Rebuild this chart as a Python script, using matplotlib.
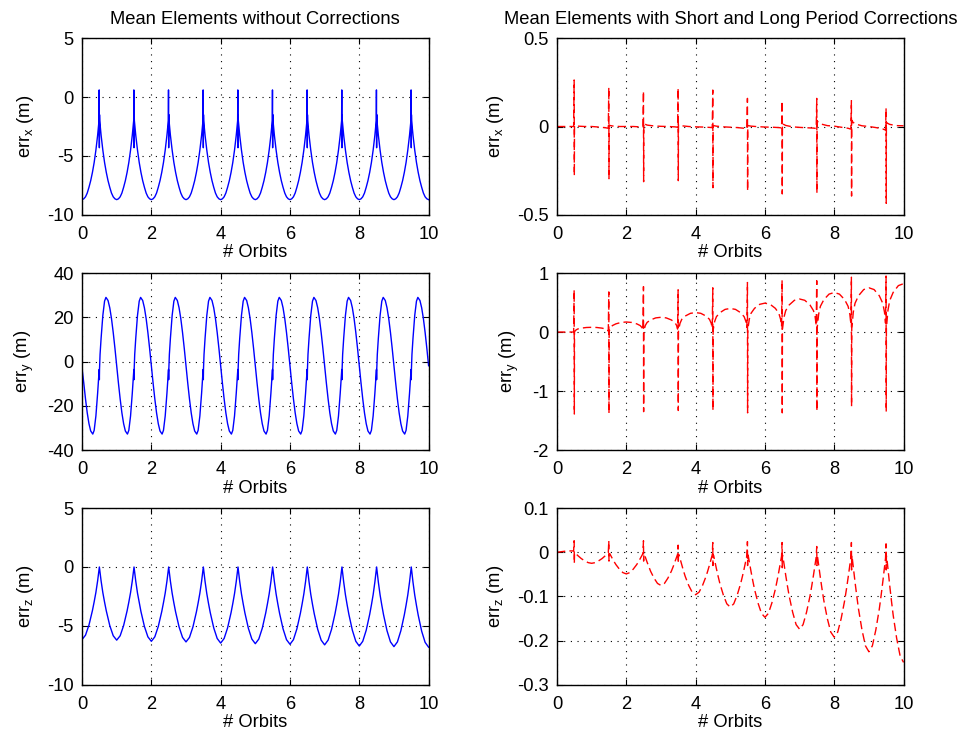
import matplotlib
matplotlib.use("Agg")
import matplotlib.pyplot as plt

plt.rcParams['font.family'] = ['Liberation Sans', 'DejaVu Sans']
plt.rcParams['mathtext.fontset'] = 'custom'
plt.rcParams['mathtext.rm'] = 'Liberation Sans'
plt.rcParams['mathtext.it'] = 'Liberation Sans'
plt.rcParams['axes.unicode_minus'] = False

orbits = list(range(10))  # start of every orbit, x in # Orbits

# ---- mean elements without corrections (m) ----
errx_phase = [0, .05, .1, .15, .2, .25, .3, .35, .4, .45, .48, .49, .495, .5, .505, .51, .52, .55, .6, .65,
              .7, .75, .8, .85, .9, .95]
errx_row = [-8.7, -8.63, -8.46, -8.14, -7.65, -7.09, -6.39, -5.55, -4.5, -3.24, -2.33, -2.0, 0.6, -4.3,
            -1.5, -2.0, -2.33, -3.24, -4.5, -5.55, -6.39, -7.09, -7.65, -8.14, -8.46, -8.63]
errx_rows = [errx_row] * 10
errx_end = -8.7

erry_phase = [0, .05, .1, .15, .2, .25, .31, .35, .4, .45, .48, .495, .5, .505, .52, .55, .6, .65, .69,
              .75, .8, .85, .9, .95]
erry_row = [-1.9, -9.7, -16.9, -23.2, -28.1, -31.4, -32.8, -31.1, -24.6, -14.3, -7.0, -3.6, -8.2, -3.2,
            3.2, 10.5, 20.8, 27.3, 29.0, 27.6, 24.3, 19.4, 13.1, 5.9]
erry_rows = [[-3.0] + erry_row[1:]] + [erry_row] * 9
erry_end = -1.9

errz_phase = [0, .1, .2, .3, .35, .4, .45, .48, .5, .52, .55, .6, .65, .7, .8, .9]
errz_rows = [
    [-6.15, -5.78, -4.92, -3.69, -2.95, -2.15, -1.17, -0.49, 0, -0.50, -1.18, -2.17, -2.98, -3.72, -4.96, -5.83],
    [-6.2, -5.83, -4.96, -3.72, -2.98, -2.17, -1.18, -0.50, 0, -0.50, -1.20, -2.21, -3.02, -3.78, -5.04, -5.92],
    [-6.3, -5.92, -5.04, -3.78, -3.02, -2.21, -1.20, -0.50, 0, -0.51, -1.21, -2.22, -3.05, -3.81, -5.08, -5.97],
    [-6.35, -5.97, -5.08, -3.81, -3.05, -2.22, -1.21, -0.51, 0, -0.52, -1.23, -2.26, -3.10, -3.87, -5.16, -6.06],
    [-6.45, -6.06, -5.16, -3.87, -3.10, -2.26, -1.23, -0.52, 0, -0.52, -1.24, -2.28, -3.12, -3.9, -5.2, -6.11],
    [-6.5, -6.11, -5.2, -3.9, -3.12, -2.28, -1.24, -0.52, 0, -0.52, -1.24, -2.29, -3.14, -3.93, -5.24, -6.16],
    [-6.55, -6.16, -5.24, -3.93, -3.14, -2.29, -1.24, -0.52, 0, -0.53, -1.25, -2.31, -3.17, -3.96, -5.28, -6.2],
    [-6.6, -6.2, -5.28, -3.96, -3.17, -2.31, -1.25, -0.53, 0, -0.54, -1.27, -2.35, -3.22, -4.02, -5.36, -6.3],
    [-6.7, -6.3, -5.36, -4.02, -3.22, -2.35, -1.27, -0.54, 0, -0.54, -1.28, -2.36, -3.24, -4.05, -5.4, -6.35],
    [-6.75, -6.35, -5.4, -4.05, -3.24, -2.36, -1.28, -0.54, 0, -0.54, -1.29, -2.38, -3.26, -4.08, -5.44, -6.39],
]
errz_end = -6.8

# ---- mean elements with short and long period corrections (m) ----
cx_phase = [0, .2, .4, .48, .495, .5, .505, .52, .6, .8]
cx_rows = [
    [0, 0, 0, 0, .263, -.278, .005, .004, .002, 0],
    [0, -.003, -.007, -.01, .221, -.295, .008, .006, .003, 0],
    [0, 0, -.002, -.003, .2, -.312, .02, .015, .008, .003],
    [.001, 0, -.002, -.004, .217, -.306, .012, .01, .004, 0],
    [-.002, -.003, -.005, -.006, .206, -.346, .006, .005, .002, -.002],
    [-.004, -.006, -.01, -.013, .159, -.364, .006, .005, .002, -.001],
    [-.003, -.004, -.006, -.008, .144, -.381, .018, .014, .006, -.002],
    [-.005, -.007, -.009, -.011, .159, -.376, .034, .028, .015, .005],
    [.002, -.004, -.01, -.015, .146, -.393, .036, .028, .015, .004],
    [0, -.006, -.014, -.02, .103, -.434, .025, .02, .012, .005],
]
cx_end = .004

cy_phase = [0, .15, .3, .4, .45, .48, .495, .5, .505, .52, .55, .6, .7, .85]
cy_rows = [
    [0, 0, 0, 0, 0, 0, .716, -1.39, .006, .016, .036, .052, .066, .077],
    [.08, .077, .066, .052, .036, .016, .68, -1.38, .014, .034, .077, .11, .139, .163],
    [.17, .163, .139, .11, .077, .034, .77, -1.35, .02, .05, .113, .163, .205, .24],
    [.25, .24, .205, .163, .113, .05, .716, -1.33, .026, .066, .149, .215, .271, .317],
    [.33, .317, .271, .215, .149, .066, .75, -1.33, .032, .08, .18, .26, .328, .384],
    [.40, .384, .328, .26, .18, .08, .84, -1.37, .039, .098, .221, .319, .402, .47],
    [.49, .47, .402, .319, .221, .098, .88, -1.37, .045, .112, .252, .364, .459, .538],
    [.56, .538, .459, .364, .252, .112, .87, -1.34, .054, .134, .302, .436, .549, .643],
    [.67, .643, .549, .436, .302, .134, .93, -1.26, .06, .15, .338, .488, .615, .72],
    [.75, .72, .615, .488, .338, .15, .95, -1.35, .066, .164, .369, .533, .672, .787],
]
cy_end = .82

cz_phase = [0, .1, .2, .3, .35, .4, .45, .48, .495, .5, .505, .52, .55, .6, .65, .7, .8, .9]
cz_rows = [
    [0, .001, .002, .003, .003, .003, .003, .003, .026, -.025, -.003, -.0015, -.0038, -.0075, -.011, -.0143, -.0195, -.0235],
    [-.025, -.0235, -.0195, -.0143, -.011, -.0075, -.0038, -.0015, .026, -.02, -.004, -.0029, -.0074, -.0147, -.0216, -.0279, -.0382, -.046],
    [-.049, -.046, -.0382, -.0279, -.0216, -.0147, -.0074, -.0029, .026, -.02, -.004, -.0045, -.0113, -.0225, -.033, -.0428, -.0585, -.0705],
    [-.075, -.0705, -.0585, -.0428, -.033, -.0225, -.0113, -.0045, .016, -.025, -.005, -.0058, -.0144, -.0288, -.0422, -.0547, -.0749, -.0902],
    [-.096, -.0902, -.0749, -.0547, -.0422, -.0288, -.0144, -.0058, .022, -.03, -.005, -.0074, -.0186, -.0372, -.0546, -.0707, -.0967, -.1166],
    [-.124, -.1166, -.0967, -.0707, -.0546, -.0372, -.0186, -.0074, .024, -.03, -.006, -.0088, -.0221, -.0441, -.0647, -.0838, -.1147, -.1382],
    [-.147, -.1382, -.1147, -.0838, -.0647, -.0441, -.0221, -.0088, .022, -.035, -.006, -.0104, -.0261, -.0522, -.0766, -.0992, -.1357, -.1636],
    [-.174, -.1636, -.1357, -.0992, -.0766, -.0522, -.0261, -.0104, .013, -.03, -.007, -.0115, -.0288, -.0576, -.0845, -.1094, -.1498, -.1805],
    [-.192, -.1805, -.1498, -.1094, -.0845, -.0576, -.0288, -.0115, .022, -.04, -.007, -.0135, -.0338, -.0675, -.099, -.1283, -.1755, -.2115],
    [-.225, -.2115, -.1755, -.1283, -.099, -.0675, -.0338, -.0135, .019, -.04, -.008, -.0149, -.0374, -.0747, -.1096, -.1419, -.1942, -.2341],
]
cz_end = -.249

xticks = [0, 2, 4, 6, 8, 10]
xtick_labels = ['0', '2', '4', '6', '8', '10']
ylims = [(-10, 5), (-40, 40), (-10, 5), (-0.5, 0.5), (-2, 1), (-0.3, 0.1)]
yticks = [[-10, -5, 0, 5], [-40, -20, 0, 20, 40], [-10, -5, 0, 5],
          [-0.5, 0, 0.5], [-2, -1, 0, 1], [-0.3, -0.2, -0.1, 0, 0.1]]
ytick_labels = [['-10', '-5', '0', '5'], ['-40', '-20', '0', '20', '40'], ['-10', '-5', '0', '5'],
                ['-0.5', '0', '0.5'], ['-2', '-1', '0', '1'], ['-0.3', '-0.2', '-0.1', '0', '0.1']]
ylabels = ['err$_\\mathrm{x}$ (m)', 'err$_\\mathrm{y}$ (m)', 'err$_\\mathrm{z}$ (m)'] * 2
titles = ['Mean Elements without Corrections', 'Mean Elements with Short and Long Period Corrections']


def series(phase, rows, end):
    x, y = [], []
    for k, row in zip(orbits, rows):
        x += [k + p for p in phase]
        y += list(row)
    x.append(10.0)
    y.append(end)
    return x, y


curves = [series(errx_phase, errx_rows, errx_end), series(erry_phase, erry_rows, erry_end),
          series(errz_phase, errz_rows, errz_end), series(cx_phase, cx_rows, cx_end),
          series(cy_phase, cy_rows, cy_end), series(cz_phase, cz_rows, cz_end)]

fig = plt.figure(figsize=(9.64, 7.34), dpi=100)
lefts = [0.0851, 0.5778]
bottoms = [0.7071, 0.3869, 0.0668]
fs = 13.2

for i, (x, y) in enumerate(curves):
    col, row = divmod(i, 3)
    ax = fig.add_axes([lefts[col], bottoms[row], 0.3595, 0.2411])
    if col == 0:
        ax.plot(x, y, color='#0000ff', lw=1.0)
    else:
        ax.plot(x, y, color='#ff0000', lw=1.0, dashes=(6, 3))
    ax.set_xlim(0, 10)
    ax.set_ylim(*ylims[i])
    ax.set_xticks(xticks)
    ax.set_xticklabels(xtick_labels)
    ax.set_yticks(yticks[i])
    ax.set_yticklabels(ytick_labels[i])
    ax.grid(True, color='k', linestyle=(0, (1, 5)), linewidth=0.8)
    ax.tick_params(direction='in', top=True, right=True, length=4, labelsize=fs, width=0.8)
    ax.tick_params(axis='x', pad=8)
    ax.tick_params(axis='y', pad=6)
    for s in ax.spines.values():
        s.set_linewidth(1.0)
    ax.set_xlabel('# Orbits', fontsize=fs, labelpad=1)
    ax.set_ylabel(ylabels[i], fontsize=fs, labelpad=8)
    if row == 0:
        ax.set_title(titles[col], fontsize=fs, pad=10)

fig.savefig('out.png', dpi=100)
